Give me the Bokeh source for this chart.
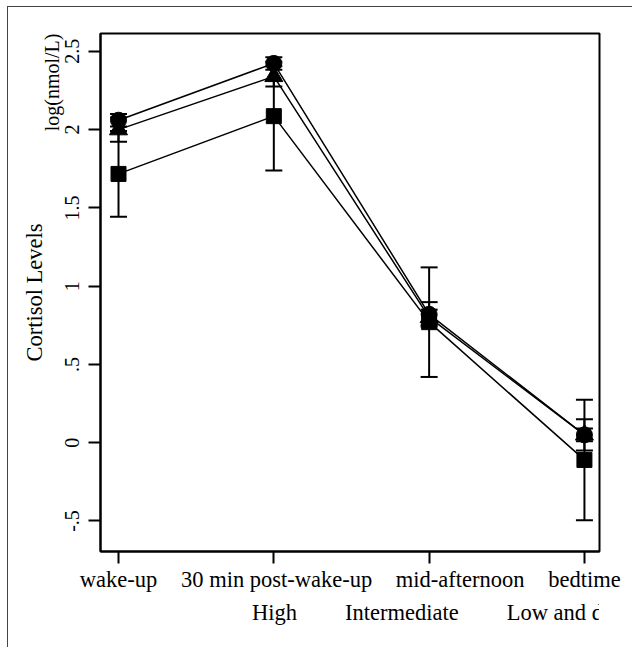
from bokeh.plotting import figure
from bokeh.layouts import column
from bokeh.models import (ColumnDataSource, Whisker, TeeHead, FixedTicker, Legend,
                          LegendItem, Title, Range1d)
from bokeh.embed import file_html
from bokeh.resources import INLINE

# ---- data ----
times = ["wake-up", "30 min post-wake-up", "mid-afternoon", "bedtime"]
high = [1.717, 2.086, 0.77, -0.11]
high_err = [0.274, 0.347, 0.35, 0.385]
inter = [2.00, 2.34, 0.80, 0.05]
inter_err = [0.077, 0.065, 0.05, 0.10]
low = [2.06, 2.423, 0.82, 0.05]
low_err = [0.04, 0.04, 0.078, 0.04]
series_names = ["High", "Intermediate", "Low and decreasing"]
y_ticks = [-0.5, 0, 0.5, 1, 1.5, 2, 2.5]
y_tick_labels = ["-.5", "0", ".5", "1", "1.5", "2", "2.5"]

FONT = "Liberation Serif"
NBSP = "\u00a0"
label_pad = [0, 1, 11, 0]   # leading non-breaking spaces (label nudges to the right)
x = list(range(len(times)))

p = figure(frame_width=499, frame_height=518,
           x_range=Range1d(-0.116, 3.097), y_range=Range1d(-0.695, 2.614),
           output_backend="svg", toolbar_location=None,
           min_border_left=100, min_border_right=33,
           min_border_top=33, min_border_bottom=50)
p.border_fill_color = None
p.background_fill_color = "white"
p.styles = {
    "background": ("linear-gradient(#444444, #444444) 7px 6px / 100% 1px no-repeat, "
                   "linear-gradient(#444444, #444444) 7px 6px / 1px 100% no-repeat, white"),
}

p.xgrid.visible = False
p.ygrid.visible = False
p.outline_line_color = "black"
p.outline_line_width = 2
p.outline_line_alpha = 1

# axes
p.xaxis.ticker = FixedTicker(ticks=x)
p.xaxis.major_label_overrides = {i: NBSP * n + t for i, t, n in zip(x, times, label_pad)}
p.yaxis.ticker = FixedTicker(ticks=y_ticks)
p.yaxis.major_label_overrides = {v: t for v, t in zip(y_ticks, y_tick_labels)}
for ax in (p.xaxis[0], p.yaxis[0]):
    ax.axis_line_width = 2
    ax.axis_line_color = "black"
    ax.major_tick_line_width = 2
    ax.major_tick_line_color = "black"
    ax.major_tick_out = 12
    ax.major_tick_in = 0
    ax.minor_tick_line_color = None
    ax.major_label_text_font = FONT
    ax.major_label_text_color = "black"
p.xaxis.major_label_text_font_size = "22.5px"
p.xaxis.major_label_standoff = 3
p.yaxis.major_label_text_font_size = "20px"
p.yaxis.major_label_orientation = "vertical"
p.yaxis.major_label_standoff = 9

series = [(high, high_err, "square", 15), (inter, inter_err, "triangle", 18),
          (low, low_err, "circle", 16)]

# lines
for vals, err, mk, sz in series:
    p.line(x, vals, line_color="black", line_width=1.5)

# error bars
for vals, err, mk, sz in series:
    src = ColumnDataSource(dict(x=x, lo=[v - e for v, e in zip(vals, err)],
                                hi=[v + e for v, e in zip(vals, err)]))
    w = Whisker(source=src, base="x", lower="lo", upper="hi", dimension="height",
                line_color="black", line_width=2,
                upper_head=TeeHead(size=17, line_width=2, line_color="black"),
                lower_head=TeeHead(size=17, line_width=2, line_color="black"))
    p.add_layout(w)

# markers
for vals, err, mk, sz in series:
    p.scatter(x, vals, marker=mk, size=sz, fill_color="black", line_color="black")

p.add_layout(Title(text="log(nmol/L)", align="right", offset=0, standoff=0,
                   text_font=FONT, text_font_size="20px", text_font_style="normal",
                   text_color="black"), "left")
p.add_layout(Title(text="Cortisol Levels", align="center", offset=0, standoff=-16,
                   text_font=FONT, text_font_size="22.5px", text_font_style="normal",
                   text_color="black"), "left")

# ---- legend strip (separate small figure whose frame is the whole canvas) ----
pl = figure(width=632, height=46, x_range=Range1d(0, 1), y_range=Range1d(0, 1),
            output_backend="svg", toolbar_location=None,
            x_axis_location=None, y_axis_location=None,
            min_border_left=0, min_border_right=0, min_border_top=0, min_border_bottom=0)
pl.xgrid.visible = False
pl.ygrid.visible = False
pl.outline_line_color = None
pl.border_fill_color = None
pl.background_fill_color = None
pl.styles = {"background": "linear-gradient(#444444, #444444) 7px 0 / 1px 100% no-repeat, white"}

legend_rends = []
for vals, err, mk, sz in series:
    r = pl.scatter(x=[], y=[], marker=mk, size=sz, fill_color="black", line_color="black")
    legend_rends.append(r)

legend = Legend(items=[LegendItem(label=n, renderers=[r]) for n, r in zip(series_names, legend_rends)],
                orientation="horizontal", location=(127, 21),
                glyph_width=24, glyph_height=24, label_standoff=1, spacing=23,
                padding=0, margin=0, border_line_color=None, background_fill_alpha=0,
                label_text_font=FONT, label_text_font_size="22.5px", label_text_color="black")
pl.add_layout(legend)

layout = column(p, pl, spacing=0)
open("out.html", "w").write(file_html(layout, INLINE))
